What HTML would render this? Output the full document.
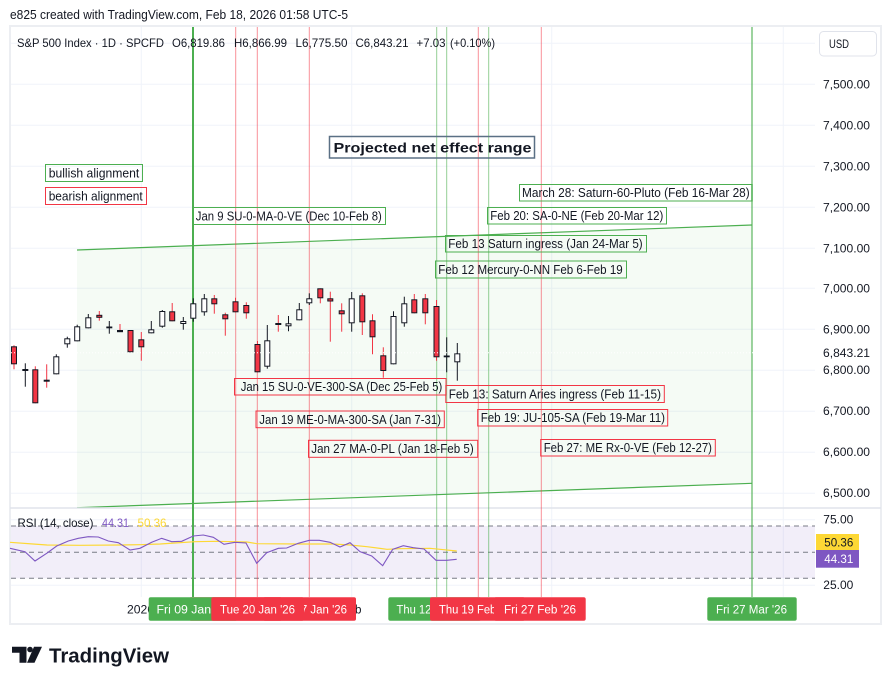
<!DOCTYPE html>
<html><head><meta charset="utf-8"><style>
html,body{margin:0;padding:0;background:#fff;}
svg{display:block;}
text{font-family:"Liberation Sans",sans-serif;fill:#131722;}
.r{fill:#f23645;stroke:#131722;stroke-width:1;}
.w{fill:#fff;stroke:#131722;stroke-width:1;}
.rw{stroke:#f23645;stroke-width:1;}
.bw{stroke:#131722;stroke-width:1;}
.lbl{font-size:12.5px;}
.gb{fill:none;stroke:#4caf50;stroke-width:1;}
.rb{fill:none;stroke:#f23645;stroke-width:1;}
.ax{font-size:11.5px;}
.xl{font-size:11.5px;fill:#fff;}
</style></head><body>
<svg width="891" height="685" viewBox="0 0 891 685" xmlns="http://www.w3.org/2000/svg">
<rect width="891" height="685" fill="#fff"/>
<text x="10" y="19" font-size="13" textLength="338" lengthAdjust="spacingAndGlyphs">e825 created with TradingView.com, Feb 18, 2026 01:58 UTC-5</text>

<rect x="10" y="26" width="871" height="598" fill="none" stroke="#eceef2" stroke-width="2"/>

<g stroke="#f0f3fa" stroke-width="1">
<line x1="11" y1="43.3" x2="815" y2="43.3"/>
<line x1="11" y1="84.3" x2="815" y2="84.3"/>
<line x1="11" y1="125.3" x2="815" y2="125.3"/>
<line x1="11" y1="166.3" x2="815" y2="166.3"/>
<line x1="11" y1="207.3" x2="815" y2="207.3"/>
<line x1="11" y1="248.3" x2="815" y2="248.3"/>
<line x1="11" y1="288.3" x2="815" y2="288.3"/>
<line x1="11" y1="329.3" x2="815" y2="329.3"/>
<line x1="11" y1="370.3" x2="815" y2="370.3"/>
<line x1="11" y1="411.3" x2="815" y2="411.3"/>
<line x1="11" y1="452.3" x2="815" y2="452.3"/>
<line x1="11" y1="493.3" x2="815" y2="493.3"/>
<line x1="11" y1="519.7" x2="815" y2="519.7"/>
<line x1="11" y1="585.3" x2="815" y2="585.3"/>
<line x1="141.3" y1="27" x2="141.3" y2="597"/>
<line x1="351.7" y1="27" x2="351.7" y2="597"/>
<line x1="551.7" y1="27" x2="551.7" y2="597"/>
<line x1="783.3" y1="27" x2="783.3" y2="597"/>
</g>

<polygon points="77,250 752,225 752,483.3 77,507.5" fill="#4caf50" fill-opacity="0.055"/>
<line x1="77" y1="250" x2="752" y2="225" stroke="#4caf50" stroke-width="1.2"/>
<line x1="77" y1="507.7" x2="752" y2="483.3" stroke="#4caf50" stroke-width="1.2"/>

<rect x="11" y="526" width="804" height="52.3" fill="#7e57c2" fill-opacity="0.1"/>
<g stroke="#787b86" stroke-width="1" stroke-dasharray="5,4">
<line x1="11" y1="526" x2="815" y2="526"/>
<line x1="11" y1="552.3" x2="815" y2="552.3"/>
<line x1="11" y1="578.3" x2="815" y2="578.3"/>
</g>

<line x1="10" y1="508" x2="881" y2="508" stroke="#e0e3eb" stroke-width="1.5"/>

<g stroke-width="1">
<line x1="235.7" y1="27" x2="235.7" y2="597" stroke="#f23645" stroke-opacity="0.55"/>
<line x1="257.3" y1="27" x2="257.3" y2="597" stroke="#f23645" stroke-opacity="0.55"/>
<line x1="309.3" y1="27" x2="309.3" y2="597" stroke="#f23645" stroke-opacity="0.55"/>
<line x1="478.3" y1="27" x2="478.3" y2="597" stroke="#f23645" stroke-opacity="0.55"/>
<line x1="541.3" y1="27" x2="541.3" y2="597" stroke="#f23645" stroke-opacity="0.55"/>
<line x1="436.7" y1="27" x2="436.7" y2="597" stroke="#4caf50" stroke-opacity="0.6"/>
<line x1="446.7" y1="27" x2="446.7" y2="597" stroke="#4caf50" stroke-opacity="0.6"/>
<line x1="488.7" y1="27" x2="488.7" y2="597" stroke="#4caf50" stroke-opacity="0.6"/>
<line x1="752" y1="27" x2="752" y2="597" stroke="#4caf50" stroke-opacity="0.55" stroke-width="2"/>
<line x1="193" y1="27" x2="193" y2="597" stroke="#4caf50" stroke-width="2"/>
</g>

<g>
<line class="rw" x1="14" y1="345.3" x2="14" y2="369.3"/><rect class="r" x="11.5" y="346.8" width="5" height="17"/>
<line class="bw" x1="25.3" y1="363.3" x2="25.3" y2="386.7"/><rect x="22.3" y="369" width="6" height="2" fill="#131722"/>
<line class="rw" x1="35.3" y1="366.3" x2="35.3" y2="403.3"/><rect class="r" x="32.8" y="369.8" width="5" height="33"/>
<line class="rw" x1="46.7" y1="364.3" x2="46.7" y2="387.7"/><rect x="43.7" y="379.7" width="6" height="2" fill="#131722"/>
<line class="bw" x1="56.3" y1="354.3" x2="56.3" y2="374.3"/><rect class="w" x="53.8" y="356.8" width="5" height="17"/>
<line class="bw" x1="67.3" y1="336.7" x2="67.3" y2="347.7"/><rect class="w" x="64.8" y="338.8" width="5" height="5"/>
<line class="bw" x1="77.2" y1="324.7" x2="77.2" y2="341.3"/><rect class="w" x="74.7" y="326.8" width="5" height="14"/>
<line class="bw" x1="88.3" y1="314" x2="88.3" y2="328.3"/><rect class="w" x="85.8" y="317.8" width="5" height="10"/>
<line class="rw" x1="99.3" y1="311" x2="99.3" y2="320.7"/><rect class="r" x="96.8" y="315.3" width="5" height="2"/>
<line class="bw" x1="109.3" y1="321" x2="109.3" y2="333.7"/><rect x="106.3" y="326.5" width="6" height="1.8" fill="#131722"/>
<line class="rw" x1="120" y1="324" x2="120" y2="331"/><rect x="117" y="330" width="6" height="2.2" fill="#131722"/>
<rect class="r" x="128" y="330.5" width="5" height="21.3"/>
<line class="rw" x1="141.3" y1="332" x2="141.3" y2="360.7"/><rect class="r" x="138.8" y="339.8" width="5" height="7"/>
<line class="bw" x1="151.3" y1="321" x2="151.3" y2="333.3"/><rect class="w" x="148.8" y="329.8" width="5" height="3"/>
<line class="bw" x1="162.3" y1="310" x2="162.3" y2="327.7"/><rect class="w" x="159.8" y="311.5" width="5" height="14.7"/>
<line class="rw" x1="172.2" y1="303" x2="172.2" y2="321.3"/><rect class="r" x="169.7" y="311.8" width="5" height="9"/>
<line class="bw" x1="183.3" y1="317" x2="183.3" y2="329.7"/><rect class="w" x="180.8" y="321.5" width="5" height="2"/>
<line class="bw" x1="193.3" y1="298.3" x2="193.3" y2="321.7"/><rect class="w" x="190.8" y="303.8" width="5" height="14.4"/>
<line class="bw" x1="204.3" y1="294" x2="204.3" y2="315.7"/><rect class="w" x="201.8" y="298.8" width="5" height="13"/>
<line class="rw" x1="214.3" y1="295" x2="214.3" y2="313.7"/><rect class="r" x="211.8" y="298.8" width="5" height="5"/>
<line class="rw" x1="225.3" y1="312.7" x2="225.3" y2="335.7"/><rect class="r" x="222.8" y="314.8" width="5" height="4"/>
<line class="rw" x1="235.5" y1="297.7" x2="235.5" y2="312.3"/><rect class="r" x="233" y="301.8" width="5" height="10"/>
<line class="rw" x1="246.3" y1="302.3" x2="246.3" y2="318.7"/><rect class="r" x="243.8" y="305.5" width="5" height="7.3"/>
<line class="rw" x1="257.5" y1="341" x2="257.5" y2="372.3"/><rect class="r" x="255" y="344.5" width="5" height="27.3"/>
<line class="bw" x1="267.3" y1="325" x2="267.3" y2="368.7"/><rect class="w" x="264.8" y="340.8" width="5" height="25.4"/>
<line class="rw" x1="278.3" y1="315" x2="278.3" y2="331.7"/><rect x="275.3" y="323" width="6" height="2" fill="#131722"/>
<line class="bw" x1="288.5" y1="316" x2="288.5" y2="331.3"/><rect class="w" x="286" y="323.8" width="5" height="2"/>
<line class="bw" x1="299.3" y1="303" x2="299.3" y2="320.3"/><rect class="w" x="296.8" y="309.8" width="5" height="10"/>
<line class="bw" x1="309.3" y1="293.3" x2="309.3" y2="305"/><rect class="w" x="306.8" y="298.8" width="5" height="4"/>
<line class="rw" x1="320.3" y1="288.3" x2="320.3" y2="303.3"/><rect class="r" x="317.8" y="288.8" width="5" height="9"/>
<line class="rw" x1="330.3" y1="291.7" x2="330.3" y2="341.7"/><rect class="r" x="327.8" y="298.8" width="5" height="2.2"/>
<line class="rw" x1="341.7" y1="303.3" x2="341.7" y2="331.7"/><rect class="r" x="339.2" y="310.8" width="5" height="3"/>
<line class="bw" x1="351.7" y1="292" x2="351.7" y2="331.7"/><rect class="w" x="349.2" y="298.8" width="5" height="24"/>
<line class="rw" x1="362.3" y1="293.3" x2="362.3" y2="335"/><rect class="r" x="359.8" y="295.8" width="5" height="26"/>
<line class="rw" x1="372.5" y1="314.3" x2="372.5" y2="354.3"/><rect class="r" x="370" y="320.8" width="5" height="16"/>
<line class="rw" x1="383.3" y1="347.3" x2="383.3" y2="377.7"/><rect class="r" x="380.8" y="355.8" width="5" height="14.7"/>
<line class="bw" x1="393.5" y1="311.3" x2="393.5" y2="364.3"/><rect class="w" x="391" y="316.5" width="5" height="47.3"/>
<line class="bw" x1="404.3" y1="296.7" x2="404.3" y2="326.7"/><rect class="w" x="401.8" y="303.8" width="5" height="19"/>
<line class="rw" x1="414.3" y1="294" x2="414.3" y2="313.3"/><rect class="r" x="411.8" y="299.8" width="5" height="13"/>
<line class="rw" x1="425.3" y1="294" x2="425.3" y2="324.3"/><rect class="r" x="422.8" y="298.8" width="5" height="14"/>
<line class="rw" x1="436.5" y1="300" x2="436.5" y2="360.7"/><rect class="r" x="434" y="306.5" width="5" height="50.3"/>
<line class="bw" x1="446.7" y1="337.3" x2="446.7" y2="372.3"/><rect x="443.7" y="355.5" width="6" height="1.8" fill="#131722"/>
<line class="bw" x1="457.3" y1="343" x2="457.3" y2="380.7"/><rect class="w" x="454.8" y="353.8" width="5" height="8"/>
</g>

<line x1="11" y1="352.7" x2="815" y2="352.7" stroke="#fff" stroke-width="1" stroke-dasharray="1,2"/>

<polyline fill="none" stroke="#fdd835" stroke-width="1.2" points="10,542.3 33,544 47,545 80,545.3 120,545 140,544.7 160,544 175,543 195,541.7 215,541.3 235,541.7 247,542 257,543.7 300,544 333,544 350,545 367,546.7 387,549.3 400,548.7 430,548.3 440,549.3 456.7,551"/>
<polyline fill="none" stroke="#7e57c2" stroke-width="1.1" points="10,548.3 25,551.7 35,561 46.7,553.3 56.7,546 68.3,541 78.3,538.3 88.3,536.7 98.3,537 108.3,541 118.3,542.7 130,550 140,548.3 151.7,542.3 161.7,538.3 171.7,541.7 181.7,541.3 193.3,536 203.3,535 213.3,537.3 224,544.3 235,542.3 246,543 256.7,563.3 266.7,552.7 278.3,548.3 286.7,548 298.3,543.3 309.3,540.3 319.3,540.3 330,542.3 340,547 350,542.7 360,551.7 371.7,556 382.7,565.7 392.7,549.3 403.3,545.7 413.3,547.7 424,549 436,560.3 446.7,560.3 456.7,559.3"/>

<g font-size="12">
<text x="17" y="47" textLength="147" lengthAdjust="spacingAndGlyphs">S&amp;P 500 Index · 1D · SPCFD</text>
<text x="172" y="47" textLength="53" lengthAdjust="spacingAndGlyphs">O6,819.86</text>
<text x="234" y="47" textLength="53" lengthAdjust="spacingAndGlyphs">H6,866.99</text>
<text x="295.5" y="47" textLength="52" lengthAdjust="spacingAndGlyphs">L6,775.50</text>
<text x="355.5" y="47" textLength="53" lengthAdjust="spacingAndGlyphs">C6,843.21</text>
<text x="416.5" y="47" textLength="29" lengthAdjust="spacingAndGlyphs">+7.03</text>
<text x="450" y="47" textLength="45" lengthAdjust="spacingAndGlyphs">(+0.10%)</text>
</g>

<rect x="329.5" y="136.5" width="205" height="21.5" fill="none" stroke="#5b7085" stroke-width="1.5"/>
<text x="333.5" y="152.5" font-size="14" font-weight="bold" textLength="198" lengthAdjust="spacingAndGlyphs">Projected net effect range</text>

<rect class="gb" x="45.5" y="164.5" width="97" height="17"/>
<text class="lbl" x="48.7" y="177.3" textLength="90.6" lengthAdjust="spacingAndGlyphs">bullish alignment</text>
<rect class="gb" x="193.5" y="207.5" width="192" height="17"/>
<text class="lbl" x="195.8" y="220.3" textLength="186" lengthAdjust="spacingAndGlyphs">Jan 9 SU-0-MA-0-VE (Dec 10-Feb 8)</text>
<rect class="gb" x="519.5" y="184.5" width="232.5" height="16.5"/>
<text class="lbl" x="522" y="197.1" textLength="227.7" lengthAdjust="spacingAndGlyphs">March 28: Saturn-60-Pluto (Feb 16-Mar 28)</text>
<rect class="gb" x="487.5" y="207.5" width="179" height="16.5"/>
<text class="lbl" x="490.3" y="220.2" textLength="173" lengthAdjust="spacingAndGlyphs">Feb 20: SA-0-NE (Feb 20-Mar 12)</text>
<rect class="gb" x="445.5" y="235.5" width="201" height="16.5"/>
<text class="lbl" x="448.3" y="248.2" textLength="194.4" lengthAdjust="spacingAndGlyphs">Feb 13 Saturn ingress (Jan 24-Mar 5)</text>
<rect class="gb" x="435.5" y="261" width="191" height="17"/>
<text class="lbl" x="438.3" y="274" textLength="184.4" lengthAdjust="spacingAndGlyphs">Feb 12 Mercury-0-NN Feb 6-Feb 19</text>

<rect class="rb" x="45.5" y="187.5" width="101" height="17"/>
<text class="lbl" x="48.7" y="200.3" textLength="94" lengthAdjust="spacingAndGlyphs">bearish alignment</text>
<rect class="rb" x="234.5" y="378.5" width="211.5" height="16.5"/>
<text class="lbl" x="240.7" y="391.2" textLength="201.6" lengthAdjust="spacingAndGlyphs">Jan 15 SU-0-VE-300-SA (Dec 25-Feb 5)</text>
<rect class="rb" x="445.8" y="385.5" width="218.5" height="17"/>
<text class="lbl" x="448.7" y="398.4" textLength="212.3" lengthAdjust="spacingAndGlyphs">Feb 13: Saturn Aries ingress (Feb 11-15)</text>
<rect class="rb" x="256" y="411" width="188.3" height="16.7"/>
<text class="lbl" x="259.3" y="423.8" textLength="181.7" lengthAdjust="spacingAndGlyphs">Jan 19 ME-0-MA-300-SA (Jan 7-31)</text>
<rect class="rb" x="477.7" y="409.5" width="190" height="16.5"/>
<text class="lbl" x="480.7" y="422.2" textLength="184.3" lengthAdjust="spacingAndGlyphs">Feb 19: JU-105-SA (Feb 19-Mar 11)</text>
<rect class="rb" x="308.5" y="440.3" width="169.2" height="17"/>
<text class="lbl" x="311.3" y="453.2" textLength="162.4" lengthAdjust="spacingAndGlyphs">Jan 27 MA-0-PL (Jan 18-Feb 5)</text>
<rect class="rb" x="540.7" y="439.5" width="174.6" height="16.5"/>
<text class="lbl" x="543.7" y="452.2" textLength="168.3" lengthAdjust="spacingAndGlyphs">Feb 27: ME Rx-0-VE (Feb 12-27)</text>

<rect x="819.5" y="31.5" width="57" height="24.5" rx="4" fill="#fff" stroke="#e0e3eb"/>
<text x="829" y="48" font-size="11.5" textLength="20" lengthAdjust="spacingAndGlyphs">USD</text>
<g class="ax">
<text x="823" y="88.3" textLength="47" lengthAdjust="spacingAndGlyphs">7,500.00</text>
<text x="823" y="129.3" textLength="47" lengthAdjust="spacingAndGlyphs">7,400.00</text>
<text x="823" y="170.3" textLength="47" lengthAdjust="spacingAndGlyphs">7,300.00</text>
<text x="823" y="211.3" textLength="47" lengthAdjust="spacingAndGlyphs">7,200.00</text>
<text x="823" y="252.3" textLength="47" lengthAdjust="spacingAndGlyphs">7,100.00</text>
<text x="823" y="292.3" textLength="47" lengthAdjust="spacingAndGlyphs">7,000.00</text>
<text x="823" y="333.3" textLength="47" lengthAdjust="spacingAndGlyphs">6,900.00</text>
<text x="823" y="356.9" textLength="47" lengthAdjust="spacingAndGlyphs">6,843.21</text>
<text x="823" y="374" textLength="47" lengthAdjust="spacingAndGlyphs">6,800.00</text>
<text x="823" y="415" textLength="47" lengthAdjust="spacingAndGlyphs">6,700.00</text>
<text x="823" y="456" textLength="47" lengthAdjust="spacingAndGlyphs">6,600.00</text>
<text x="823" y="497" textLength="47" lengthAdjust="spacingAndGlyphs">6,500.00</text>
<text x="823.3" y="523.6" textLength="30" lengthAdjust="spacingAndGlyphs">75.00</text>
<text x="823.3" y="589.2" textLength="30" lengthAdjust="spacingAndGlyphs">25.00</text>
</g>
<rect x="816" y="534" width="43" height="16" fill="#fdd835"/>
<text x="824.3" y="546.3" font-size="11.5" textLength="29" lengthAdjust="spacingAndGlyphs">50.36</text>
<rect x="816" y="550" width="43" height="17.7" fill="#7e57c2"/>
<text x="824.3" y="563.2" font-size="11.5" style="fill:#fff" textLength="29" lengthAdjust="spacingAndGlyphs">44.31</text>

<text x="17.5" y="526.8" font-size="12" textLength="76" lengthAdjust="spacingAndGlyphs">RSI (14, close)</text>
<text x="102" y="526.8" font-size="12" style="fill:#7e57c2" textLength="27" lengthAdjust="spacingAndGlyphs">44.31</text>
<text x="137.5" y="526.8" font-size="12" style="fill:#fdd835" textLength="29" lengthAdjust="spacingAndGlyphs">50.36</text>

<text x="127" y="613.5" font-size="11.5" textLength="27" lengthAdjust="spacingAndGlyphs">2026</text>
<text x="341.5" y="613.5" font-size="11.5" textLength="20" lengthAdjust="spacingAndGlyphs">Feb</text>
<rect x="189" y="597.3" width="93" height="23.4" rx="2" fill="#f23645"/>
<rect x="148.7" y="597.3" width="88.6" height="23.4" rx="2" fill="#4caf50"/>
<text class="xl" x="156.5" y="613.5" textLength="74" lengthAdjust="spacingAndGlyphs">Fri 09 Jan '26</text>
<rect x="263" y="597.3" width="93" height="23.4" rx="2" fill="#f23645"/>
<text class="xl" x="272" y="613.5" textLength="75" lengthAdjust="spacingAndGlyphs">Tue 27 Jan '26</text>
<rect x="211.3" y="597.3" width="92.7" height="23.4" rx="2" fill="#f23645"/>
<text class="xl" x="220" y="613.5" textLength="75" lengthAdjust="spacingAndGlyphs">Tue 20 Jan '26</text>

<rect x="388.3" y="597.3" width="93" height="23.4" rx="2" fill="#4caf50"/>
<text class="xl" x="396.5" y="613.5" textLength="75" lengthAdjust="spacingAndGlyphs">Thu 12 Feb '26</text>
<rect x="430" y="597.3" width="95" height="23.4" rx="2" fill="#f23645"/>
<text class="xl" x="439" y="613.5" textLength="75" lengthAdjust="spacingAndGlyphs">Thu 19 Feb '26</text>
<rect x="494" y="597.3" width="91.7" height="23.4" rx="2" fill="#f23645"/>
<text class="xl" x="504" y="613.5" textLength="72" lengthAdjust="spacingAndGlyphs">Fri 27 Feb '26</text>
<rect x="707.3" y="597.3" width="89.4" height="23.4" rx="2" fill="#4caf50"/>
<text class="xl" x="716" y="613.5" textLength="71" lengthAdjust="spacingAndGlyphs">Fri 27 Mar '26</text>

<path d="M12,646.7 H26.5 V662.7 H19.5 V652.7 H12 Z" fill="#131722"/>
<circle cx="30" cy="649.5" r="2.8" fill="#131722"/>
<path d="M34,646.7 H42 L34.5,662.7 H27 Z" fill="#131722"/>
<text x="49" y="662.5" font-size="20.5" font-weight="bold" textLength="120" lengthAdjust="spacingAndGlyphs">TradingView</text>
</svg>
</body></html>
